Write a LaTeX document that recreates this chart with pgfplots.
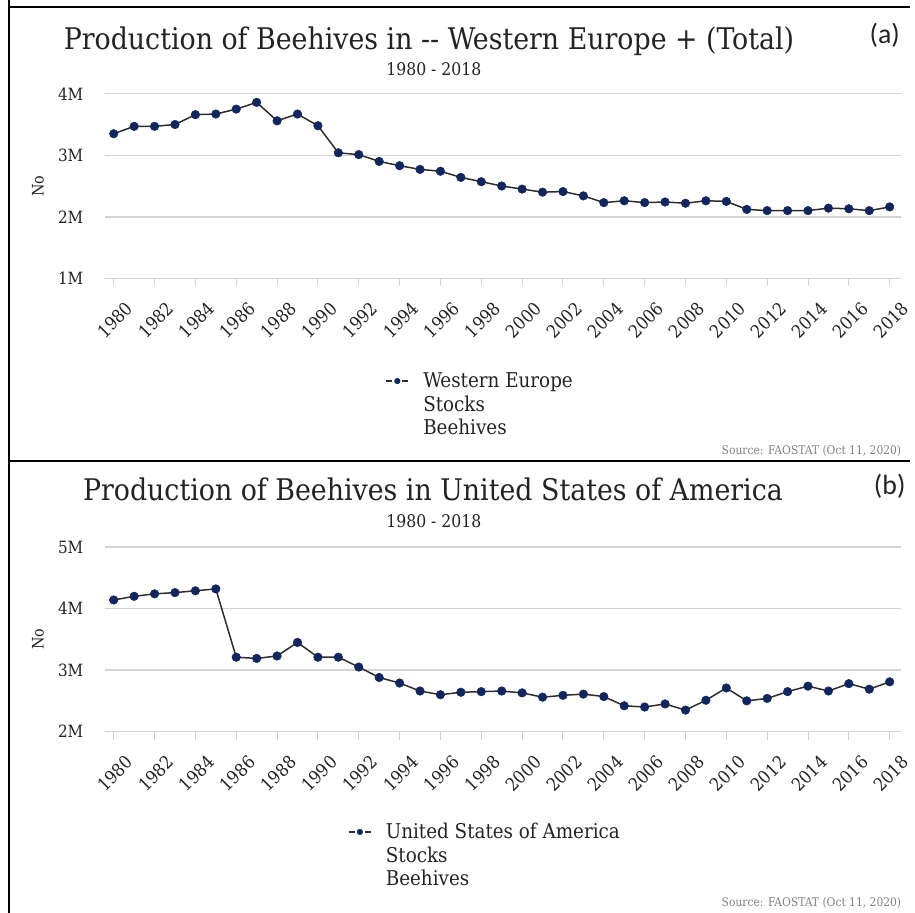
\documentclass[border=0pt]{standalone}
\usepackage{pgfplots}
\pgfplotsset{compat=1.18}
\usepackage{fontspec}
\setmainfont{DejaVu Serif Condensed}
\newfontfamily\calfont{Carlito}
\definecolor{navy}{RGB}{18,38,92}
\definecolor{gridc}{RGB}{212,212,212}
\definecolor{linec}{RGB}{45,45,45}
\definecolor{txt}{RGB}{35,35,35}
\pgfplotsset{
 beestyle/.style={
  scale only axis, width=798bp, height=185bp,
  xmin=1979.56, xmax=2018.54,
  xtick={1980,1982,...,2018},
  axis line style={draw=none},
  ymajorgrids, grid style={gridc, line width=1.5bp},
  major tick length=8bp, tick align=outside,
  xtick pos=left, ytick style={draw=none},
  xtick style={gridc, line width=1bp},
  /pgf/number format/assume math mode=true,
  /pgf/number format/1000 sep={},
  xticklabel style={rotate=45, anchor=east, font=\fontsize{18}{21}\selectfont, text=txt, yshift=-25bp, xshift=1bp},
  yticklabel style={font=\fontsize{17}{20}\selectfont, text=txt, xshift=-10bp},
  ylabel={No}, ylabel style={at={(axis description cs:-0.084,0.5)}, anchor=center, font=\fontsize{16}{19}\selectfont, text=txt},
  clip=false,
  legend style={draw=none, fill=none, font=\fontsize{20.5}{24}\selectfont, text=txt, anchor=north west, row sep=2.5bp},
  legend cell align=left,
  legend image code/.code={%
    \draw[##1, mark repeat=2, mark phase=2, mark size=2.8bp, line width=1.3bp,
          dash pattern=on 6bp off 10bp, every mark/.append style={solid}]
          plot coordinates {(0bp,0bp) (11bp,0bp) (22bp,0bp)};
    \path[draw=none] (0bp,0bp) -- (35bp,0bp);},
 },
 beeplot/.style={linec, line width=1.5bp, mark=*, mark size=4.3bp, mark options={fill=navy, draw=navy, line width=0.5bp}},
}
\begin{document}
\begin{tikzpicture}
\begin{scope}[x=1bp,y=1bp]
\useasboundingbox (0,0) rectangle (910,915);
% panel borders
\draw[line width=2.5bp] (9,915) -- (9,0);
\draw[line width=2.5bp] (9,908) -- (912,908);
\draw[line width=2.5bp] (9,453) -- (912,453);
% ---------- panel (a) ----------
\node[anchor=base, font=\fontsize{30}{36}\selectfont, text=txt] at (430,865) {Production of Beehives in -{}- Western Europe + (Total)};
\node[anchor=base, font=\fontsize{17.5}{21}\selectfont, text=txt] at (435,839) {1980 - 2018};
\node[font=\calfont\fontsize{28}{32}\selectfont, text=txt] at (887,880) {(a)};
\node[anchor=east, font=\fontsize{12}{14}\selectfont, text=gray] at (907,463) {Source: FAOSTAT (Oct 11, 2020)};
% ---------- panel (b) ----------
\node[anchor=base, font=\fontsize{30}{36}\selectfont, text=txt] at (434,413) {Production of Beehives in United States of America};
\node[anchor=base, font=\fontsize{17.5}{21}\selectfont, text=txt] at (435,386) {1980 - 2018};
\node[font=\calfont\fontsize{28}{32}\selectfont, text=txt] at (892,427) {(b)};
\node[anchor=east, font=\fontsize{12}{14}\selectfont, text=gray] at (907,10) {Source: FAOSTAT (Oct 11, 2020)};
\end{scope}
\begin{axis}[beestyle, at={(105bp,636bp)}, anchor=south west,
  ymin=1, ymax=4, ytick={1,2,3,4}, yticklabels={1M,2M,3M,4M},
  legend style={at={(axis description cs:0.349,-0.49)}}]
\addplot[beeplot] coordinates {
(1980,3.35) (1981,3.47) (1982,3.47) (1983,3.50) (1984,3.66) (1985,3.67)
(1986,3.75) (1987,3.86) (1988,3.56) (1989,3.67) (1990,3.48) (1991,3.04)
(1992,3.01) (1993,2.90) (1994,2.83) (1995,2.77) (1996,2.74) (1997,2.64)
(1998,2.57) (1999,2.50) (2000,2.45) (2001,2.40) (2002,2.41) (2003,2.34)
(2004,2.23) (2005,2.26) (2006,2.23) (2007,2.24) (2008,2.22) (2009,2.26)
(2010,2.25) (2011,2.12) (2012,2.10) (2013,2.10) (2014,2.10) (2015,2.14)
(2016,2.13) (2017,2.10) (2018,2.16)};
\addlegendentry{Western Europe}
\addlegendimage{empty legend}\addlegendentry{Stocks}
\addlegendimage{empty legend}\addlegendentry{Beehives}
\end{axis}
\begin{axis}[beestyle, at={(105bp,181.5bp)}, anchor=south west,
  ymin=2, ymax=5, ytick={2,3,4,5}, yticklabels={2M,3M,4M,5M},
  legend style={at={(axis description cs:0.302,-0.475)}}]
\addplot[beeplot] coordinates {
(1980,4.14) (1981,4.20) (1982,4.24) (1983,4.26) (1984,4.29) (1985,4.32)
(1986,3.21) (1987,3.19) (1988,3.23) (1989,3.45) (1990,3.21) (1991,3.21)
(1992,3.05) (1993,2.88) (1994,2.79) (1995,2.66) (1996,2.60) (1997,2.64)
(1998,2.65) (1999,2.66) (2000,2.63) (2001,2.56) (2002,2.59) (2003,2.61)
(2004,2.57) (2005,2.42) (2006,2.40) (2007,2.45) (2008,2.35) (2009,2.51)
(2010,2.71) (2011,2.50) (2012,2.54) (2013,2.65) (2014,2.74) (2015,2.66)
(2016,2.78) (2017,2.69) (2018,2.81)};
\addlegendentry{United States of America}
\addlegendimage{empty legend}\addlegendentry{Stocks}
\addlegendimage{empty legend}\addlegendentry{Beehives}
\end{axis}
\end{tikzpicture}
\end{document}
